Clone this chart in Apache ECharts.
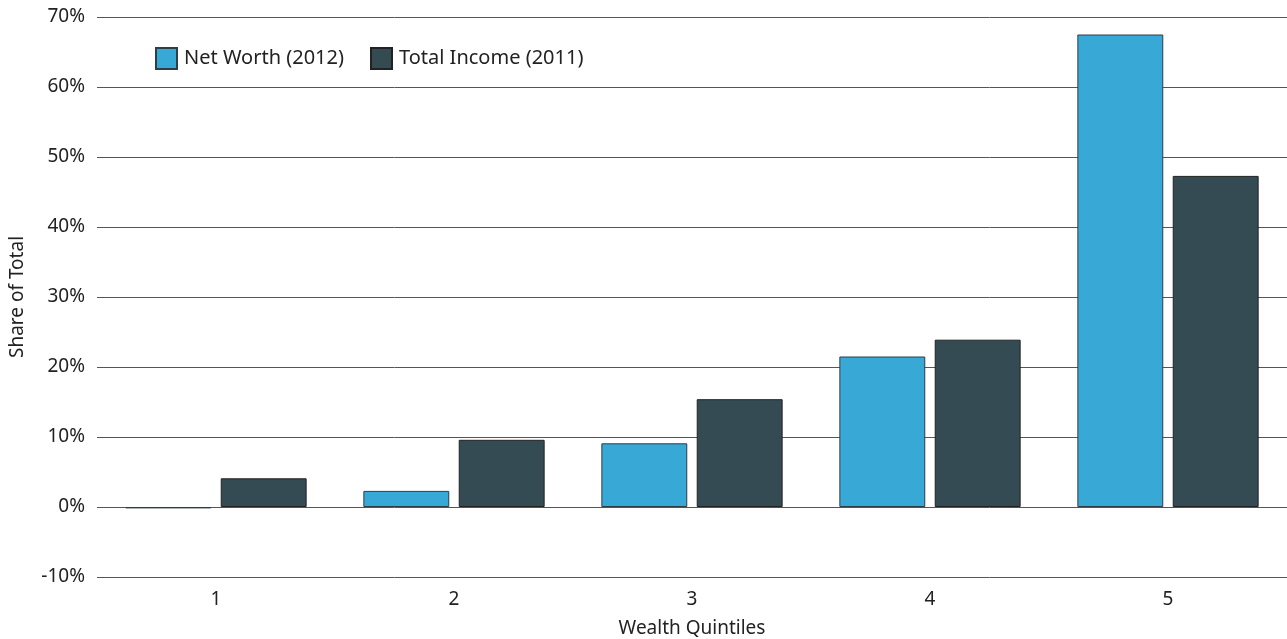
<!DOCTYPE html>
<html><head><meta charset="utf-8">
<script src="https://cdn.jsdelivr.net/npm/echarts@6/dist/echarts.min.js"></script>
<style>html,body{margin:0;padding:0;background:#fff}#c{width:1287px;height:639px}</style>
</head><body><div id="c"></div>
<script>
const categories = ['1', '2', '3', '4', '5'];
const netWorth2012 = [-0.2, 2.3, 9.1, 21.5, 67.5];
const totalIncome2011 = [4.1, 9.6, 15.4, 23.9, 47.3];
const yTicks = { min: -10, max: 70, interval: 10 };

const chart = echarts.init(document.getElementById('c'), null, { renderer: 'canvas' });
const font = 'Noto Sans';
const fs = 19;
chart.setOption({
  animation: false,
  textStyle: { fontFamily: font },
  grid: { left: 97, right: 0, top: 17, bottom: 62, containLabel: false, outerBoundsMode: 'none' },
  legend: {
    left: 150, top: 42, itemWidth: 21, itemHeight: 21, itemGap: 26,
    icon: 'rect',
    textStyle: { fontFamily: font, fontSize: 20, color: '#222', padding: [0, 0, 0, 2] },
    data: ['Net Worth (2012)', 'Total Income (2011)']
  },
  xAxis: {
    type: 'category', data: categories,
    name: 'Wealth Quintiles', nameLocation: 'middle', nameGap: 42,
    nameTextStyle: { fontFamily: font, fontSize: fs, color: '#222' },
    axisLine: { show: false }, axisTick: { show: false },
    axisLabel: { fontFamily: font, fontSize: fs, color: '#222', margin: 13 }
  },
  yAxis: {
    type: 'value', min: yTicks.min, max: yTicks.max, interval: yTicks.interval,
    name: 'Share of Total', nameLocation: 'middle', nameGap: 70,
    nameTextStyle: { fontFamily: font, fontSize: fs, color: '#222' },
    axisLine: { show: false }, axisTick: { show: false },
    axisLabel: { fontFamily: font, fontSize: fs, color: '#222', margin: 12, formatter: v => v + '%' },
    splitLine: { lineStyle: { color: '#555', width: 1 } }
  },
  series: [
    { name: 'Net Worth (2012)', type: 'bar', data: netWorth2012, barWidth: '36.1%', barGap: '11%',
      itemStyle: { color: '#38a8d7', borderColor: '#2d3e46', borderWidth: 1 } },
    { name: 'Total Income (2011)', type: 'bar', data: totalIncome2011, barWidth: '36.1%', barGap: '11%',
      itemStyle: { color: '#344b54', borderColor: '#222', borderWidth: 1 } }
  ]
});
</script></body></html>
